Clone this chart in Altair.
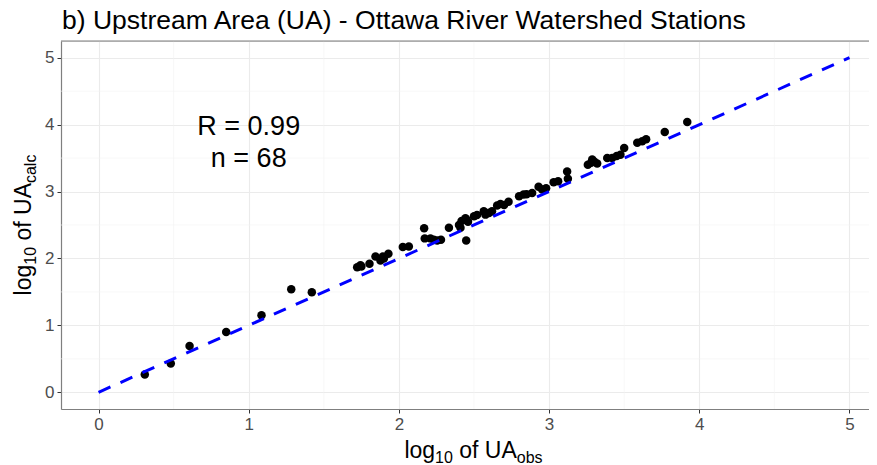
import altair as alt
import pandas as pd

# ---- data ----
ua_obs = [0.308, 0.481, 0.606, 0.85, 1.085, 1.283, 1.42, 1.722, 1.744, 1.804,
          1.844, 1.877, 1.893, 1.93, 2.026, 2.066, 2.168, 2.172, 2.21, 2.232,
          2.255, 2.333, 2.41, 2.417, 2.448, 2.443, 2.50, 2.565, 2.576, 2.62,
          2.654, 2.676, 2.73, 2.80, 2.83, 2.887, 2.93, 2.954, 3.03, 3.06,
          3.12, 3.125, 3.258, 3.287, 3.32, 3.387, 3.42, 3.45, 3.475, 3.50,
          3.587, 3.62, 3.646, 3.77, 3.92, 1.75, 2.40, 2.45, 2.52, 2.60,
          2.70, 2.85, 2.98, 2.46, 1.90, 2.28, 3.28, 3.30]
ua_calc = [0.265, 0.43, 0.69, 0.90, 1.15, 1.54, 1.495, 1.87, 1.90, 1.92,
           2.03, 1.97, 2.03, 2.07, 2.17, 2.18, 2.45, 2.30, 2.30, 2.28,
           2.27, 2.46, 2.46, 2.56, 2.27, 2.60, 2.63, 2.705, 2.655, 2.705,
           2.79, 2.815, 2.846, 2.93, 2.955, 2.98, 3.07, 3.03, 3.14, 3.155,
           3.30, 3.19, 3.40, 3.48, 3.42, 3.50, 3.50, 3.53, 3.55, 3.65,
           3.73, 3.75, 3.78, 3.89, 4.04, 1.88, 2.50, 2.58, 2.65, 2.68,
           2.80, 2.96, 3.05, 2.55, 2.00, 2.28, 3.43, 3.45]
line_x = [0, 5]
line_y = [0, 5]
major_ticks = [0, 1, 2, 3, 4, 5]
minor_ticks = [0.5, 1.5, 2.5, 3.5, 4.5]
annot_text = ["R = 0.99", "n = 68"]
annot_x = [1, 1]
annot_y = [3.84, 3.37]
title_text = "b) Upstream Area (UA) - Ottawa River Watershed Stations"

# ---- layout ----
W, H = 808, 368
XDOM = [-0.25, 5.13]
YDOM = [-0.25, 5.25]
FONT = "Liberation Sans"
GRID = "#ebebeb"

pts = pd.DataFrame({"obs": ua_obs, "calc": ua_calc})
ln = pd.DataFrame({"obs": line_x, "calc": line_y})
minor = pd.DataFrame({"v": minor_ticks})
ann = pd.DataFrame({"t": annot_text, "x": annot_x, "y": annot_y})
one = pd.DataFrame({"a": [0]})

xs = alt.Scale(domain=XDOM, nice=False, zero=False)
ys = alt.Scale(domain=YDOM, nice=False, zero=False)

xaxis = alt.Axis(values=major_ticks, title=None, grid=True, gridColor=GRID, gridWidth=1.1,
                 labelFont=FONT, labelFontSize=17, labelColor="#4d4d4d", tickColor="#333333",
                 tickSize=4, labelPadding=3, domainColor="#7f7f7f", domainWidth=1.2, format="d")
yaxis = alt.Axis(values=major_ticks, title=None, grid=True, gridColor=GRID, gridWidth=1.1,
                 labelFont=FONT, labelFontSize=17, labelColor="#4d4d4d", tickColor="#333333",
                 tickSize=4, labelPadding=3, domainColor="#7f7f7f", domainWidth=1.2, format="d")

minor_v = alt.Chart(minor).mark_rule(color="#f4f4f4", strokeWidth=0.6).encode(
    x=alt.X("v:Q", scale=xs, axis=xaxis))
minor_h = alt.Chart(minor).mark_rule(color="#f4f4f4", strokeWidth=0.6).encode(
    y=alt.Y("v:Q", scale=ys, axis=yaxis))

points = alt.Chart(pts).mark_circle(color="black", size=72, opacity=1).encode(
    x=alt.X("obs:Q", scale=xs, axis=xaxis),
    y=alt.Y("calc:Q", scale=ys, axis=yaxis))

diag = alt.Chart(ln).mark_line(color="#0000ff", strokeWidth=3, strokeDash=[13, 11]).encode(
    x=alt.X("obs:Q", scale=xs), y=alt.Y("calc:Q", scale=ys))

annot = alt.Chart(ann).mark_text(font=FONT, fontSize=27, color="black", align="center",
                                 baseline="alphabetic").encode(
    x=alt.X("x:Q", scale=xs), y=alt.Y("y:Q", scale=ys), text="t:N")

border = alt.Chart(one).mark_rule(color="#7f7f7f", strokeWidth=1.2).encode(
    x=alt.value(0), x2=alt.value(W), y=alt.value(0))

title = alt.Chart(one).mark_text(font=FONT, fontSize=26.5, color="black", align="left",
                                 baseline="alphabetic").encode(
    x=alt.value(1), y=alt.value(-12), text=alt.value(title_text))

# ---- axis titles with subscripts ----
AFM = {'l': 222, 'o': 556, 'g': 556, '1': 556, '0': 556, ' ': 278, 'f': 278,
       'U': 722, 'A': 667, 'b': 556, 's': 500, 'c': 500, 'a': 556}


def tw(s, size):
    return sum(AFM[c] for c in s) * size / 1000.0


MAIN, SUB, SHIFT = 23, 16, 5
PANEL_CX = 412.5
PANEL_CY = H / 2
GAP = tw(" ", MAIN)


def pieces(sub_word):
    # (text, font size, baseline shift, gap before)
    return [("log", MAIN, 0, 0), ("10", SUB, SHIFT, 0), ("of UA", MAIN, 0, GAP), (sub_word, SUB, SHIFT, 0)]


xt_layers = []
parts = pieces("obs")
total = sum(tw(t, s) + g for t, s, _, g in parts)
cur = PANEL_CX - total / 2
XT_BASE = H + 49
for t, s, sh, g in parts:
    cur += g
    xt_layers.append(alt.Chart(one).mark_text(font=FONT, fontSize=s, color="black", align="left",
                                              baseline="alphabetic").encode(
        x=alt.value(cur), y=alt.value(XT_BASE + sh), text=alt.value(t)))
    cur += tw(t, s)

yt_layers = []
parts = pieces("calc")
total = sum(tw(t, s) + g for t, s, _, g in parts)
cur = PANEL_CY + total / 2
YT_BASE = -30
for t, s, sh, g in parts:
    cur -= g
    yt_layers.append(alt.Chart(one).mark_text(font=FONT, fontSize=s, color="black", align="left",
                                              baseline="alphabetic", angle=270).encode(
        x=alt.value(YT_BASE + sh), y=alt.value(cur), text=alt.value(t)))
    cur -= tw(t, s)

chart = alt.layer(minor_v, minor_h, points, diag, annot, border, title, *xt_layers, *yt_layers).properties(
    width=W, height=H,
    autosize=alt.AutoSizeParams(type="none"),
    padding={"left": 53, "top": 33, "right": 0, "bottom": 56},
).configure_view(stroke=None).configure(background="white")

chart.save("out.html", embed_options={"renderer": "svg", "actions": False})
